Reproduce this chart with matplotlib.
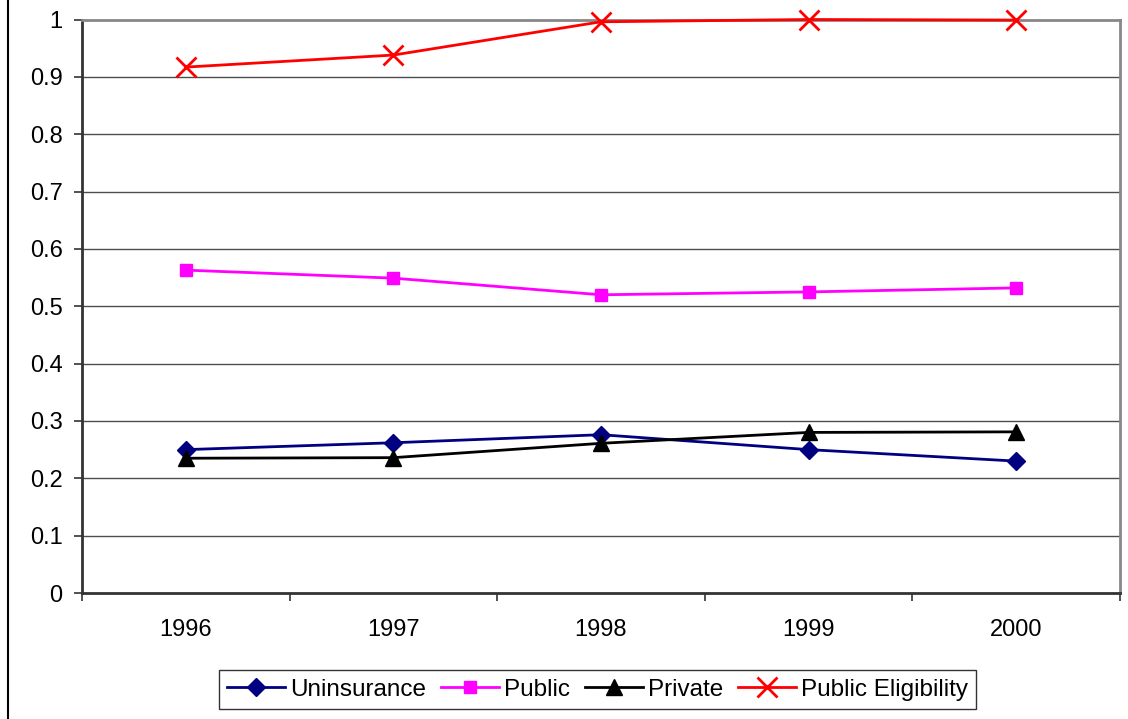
import matplotlib
matplotlib.use("Agg")
import matplotlib.pyplot as plt
from matplotlib.lines import Line2D

plt.rcParams['font.family'] = ['Liberation Sans', 'DejaVu Sans']

years = ["1996", "1997", "1998", "1999", "2000"]
uninsurance = [0.250, 0.262, 0.276, 0.250, 0.230]
public = [0.563, 0.549, 0.520, 0.525, 0.532]
private = [0.235, 0.236, 0.261, 0.280, 0.281]
public_elig = [0.917, 0.938, 0.996, 1.000, 0.999]
y_ticks = [0, 0.1, 0.2, 0.3, 0.4, 0.5, 0.6, 0.7, 0.8, 0.9, 1]
y_tick_labels = ["0", "0.1", "0.2", "0.3", "0.4", "0.5", "0.6", "0.7", "0.8", "0.9", "1"]

W, H = 1128, 719
fig = plt.figure(figsize=(W / 100, H / 100), dpi=100)
ax = fig.add_axes([82 / W, 1 - 593 / H, (1120 - 82) / W, (593 - 19.5) / H])

x = list(range(len(years)))
ax.plot(x, uninsurance, color='#000080', lw=2, marker='D', ms=9, label='Uninsurance',
        zorder=5, clip_on=False)
ax.plot(x, public, color='#FF00FF', lw=2, marker='s', ms=9, label='Public',
        zorder=5, clip_on=False)
ax.plot(x, private, color='#000000', lw=2, marker='^', ms=11, label='Private',
        zorder=5, clip_on=False)
ax.plot(x, public_elig, color='#FF0000', lw=2, marker='x', ms=14, mew=2,
        label='Public Eligibility', zorder=5, clip_on=False)

ax.set_xlim(-0.5, len(years) - 0.5)
ax.set_ylim(0, 1)
ax.set_yticks(y_ticks)
ax.set_yticklabels(y_tick_labels)
ax.set_xticks(x)
ax.set_xticklabels(years)
ax.set_xticks([i - 0.5 for i in range(len(years) + 1)], minor=True)
ax.tick_params(axis='x', which='major', length=0, pad=19, labelsize=17)
ax.tick_params(axis='x', which='minor', length=6, width=1.2, color='#333333')
ax.tick_params(axis='y', length=6, width=1.2, color='#333333', pad=8, labelsize=17)

for yv in y_ticks[1:-1]:
    ax.axhline(yv, color='#4d4d4d', lw=1, zorder=1)

for side in ('left', 'bottom'):
    ax.spines[side].set_color('#333333')
    ax.spines[side].set_linewidth(2)
for side in ('top', 'right'):
    ax.spines[side].set_color('#888888')
    ax.spines[side].set_linewidth(2)

leg = ax.legend(loc='center', bbox_to_anchor=(597.5 / W, 1 - 689.5 / H),
                bbox_transform=fig.transFigure, ncol=4, fontsize=17.5,
                frameon=True, fancybox=False, edgecolor='black',
                borderpad=0.35, handlelength=2.4, handletextpad=0.2,
                columnspacing=0.6, borderaxespad=0)
leg.get_frame().set_linewidth(1)

fig.add_artist(Line2D([7.5 / W, 7.5 / W], [0, 1], color='black', lw=1.5,
                      transform=fig.transFigure))

fig.savefig('out.png', dpi=100)
